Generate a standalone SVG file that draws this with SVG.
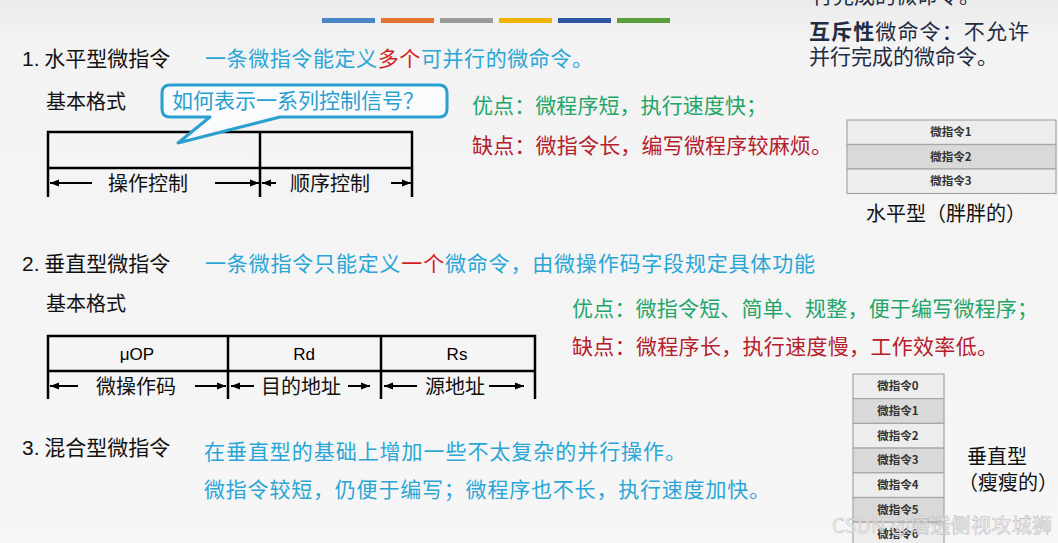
<svg xmlns="http://www.w3.org/2000/svg" width="1058" height="543" viewBox="0 0 1058 543">
<defs>
<linearGradient id="bg" x1="0" y1="0" x2="0" y2="1">
<stop offset="0" stop-color="#ebebeb"/>
<stop offset="0.08" stop-color="#f3f3f3"/>
<stop offset="1" stop-color="#f6f6f6"/>
</linearGradient>
<marker id="ah" markerUnits="userSpaceOnUse" markerWidth="10" markerHeight="8" refX="9" refY="4" orient="auto">
<path d="M0,0.5 L9,4 L0,7.5 z" fill="#000"/>
</marker>
<style>
text{font-family:"Noto Sans CJK SC","Noto Sans",sans-serif;}
.h{font-size:21px;fill:#111;}
.blue{font-size:21px;fill:#2aa6d6;}
.red{fill:#d41e1e;}
.good{font-size:21px;fill:#23a56a;}
.bad{font-size:21px;fill:#b5202c;}
.navy{font-size:21px;fill:#1f2c44;}
.lbl{font-size:20px;fill:#111;}
.fld{font-family:"Liberation Sans",Arial,sans-serif;font-size:17px;fill:#000;}
.frame{fill:none;stroke:#000;stroke-width:2.5;}
.arr{stroke:#000;stroke-width:2;marker-end:url(#ah);}
.cellL{fill:#ededed;stroke:#a6a6a6;stroke-width:1.2;}
.cellD{fill:#d9d9d9;stroke:#a6a6a6;stroke-width:1.2;}
.ct{font-size:11.5px;font-weight:bold;fill:#333;text-anchor:middle;}
</style>
</defs>
<rect x="0" y="0" width="1058" height="543" fill="url(#bg)"/>

<g id="color-bars">
<rect x="322" y="18" width="53" height="5" fill="#4a86c8"/>
<rect x="381" y="18" width="53" height="5" fill="#e0732e"/>
<rect x="440" y="18" width="53" height="5" fill="#9a9a9a"/>
<rect x="499" y="18" width="53" height="5" fill="#f0b400"/>
<rect x="558" y="18" width="53" height="5" fill="#2f55a4"/>
<rect x="617" y="18" width="53" height="5" fill="#5a9e3c"/>
</g>

<g id="mutex-note">
<text class="navy" x="812" y="3">行完成的微命令。</text>
<text class="navy" x="809" y="39" textLength="220"><tspan font-weight="bold">互斥性</tspan>微命令：不允许</text>
<text class="navy" x="809" y="64">并行完成的微命令。</text>
</g>

<g id="sec1-title">
<text class="h" x="22" y="66"><tspan font-family="Liberation Sans, sans-serif">1.</tspan> 水平型微指令</text>
<text class="blue" x="205" y="66" textLength="388">一条微指令能定义<tspan class="red">多个</tspan>可并行的微命令。</text>
</g>

<g id="sec1-format">
<text class="lbl" x="46" y="109">基本格式</text>
<path class="frame" d="M48,197 V132 H412 V197 M260,132 V197 M48,168 H412"/>
<text class="lbl" x="108" y="191">操作控制</text>
<text class="lbl" x="290" y="191">顺序控制</text>
</g>

<g id="sec1-bubble">
<path d="M170,85 H439 Q447,85 447,93 V109 Q447,117 439,117 H280 L178,143 L210,117 H170 Q162,117 162,109 V93 Q162,85 170,85 Z" fill="#f9fbfc" stroke="#2a9fd0" stroke-width="3" stroke-linejoin="round"/>
<text x="172" y="108" font-size="21" fill="#2a9fd0" textLength="252">如何表示一系列控制信号？</text>
</g>

<g id="sec1-pros">
<text class="good" x="472" y="113" textLength="295">优点：微程序短，执行速度快；</text>
<text class="bad" x="472" y="153" textLength="360">缺点：微指令长，编写微程序较麻烦。</text>
</g>

<g id="horizontal-stack">
<rect class="cellL" x="847" y="120" width="209" height="24.5"/>
<rect class="cellD" x="847" y="144.5" width="209" height="24.5"/>
<rect class="cellL" x="847" y="169" width="209" height="24.5"/>
<text class="ct" x="951" y="136">微指令1</text>
<text class="ct" x="951" y="161">微指令2</text>
<text class="ct" x="951" y="185">微指令3</text>
<text class="lbl" x="866" y="221">水平型（胖胖的）</text>
</g>

<g id="sec2-title">
<text class="h" x="22" y="271"><tspan font-family="Liberation Sans, sans-serif">2.</tspan> 垂直型微指令</text>
<text class="blue" x="205" y="271" textLength="610">一条微指令只能定义<tspan class="red">一个</tspan>微命令，由微操作码字段规定具体功能</text>
</g>

<g id="sec2-format">
<text class="lbl" x="46" y="311">基本格式</text>
<path class="frame" d="M48,399 V336 H535 V399 M228,336 V399 M381,336 V399 M48,371 H535"/>
<text class="fld" x="137" y="360" text-anchor="middle">μOP</text>
<text class="fld" x="304" y="360" text-anchor="middle">Rd</text>
<text class="fld" x="457" y="360" text-anchor="middle">Rs</text>
<text class="lbl" x="96" y="394">微操作码</text>
<text class="lbl" x="261" y="394">目的地址</text>
<text class="lbl" x="425" y="394">源地址</text>
</g>

<g id="sec2-pros">
<text class="good" x="572" y="316" textLength="466">优点：微指令短、简单、规整，便于编写微程序；</text>
<text class="bad" x="572" y="354" textLength="426">缺点：微程序长，执行速度慢，工作效率低。</text>
</g>

<g id="vertical-stack">
<rect class="cellL" x="853" y="374" width="91" height="24.7"/>
<rect class="cellD" x="853" y="398.7" width="91" height="24.7"/>
<rect class="cellL" x="853" y="423.4" width="91" height="24.7"/>
<rect class="cellD" x="853" y="448.1" width="91" height="24.7"/>
<rect class="cellL" x="853" y="472.8" width="91" height="24.7"/>
<rect class="cellD" x="853" y="497.5" width="91" height="24.7"/>
<rect class="cellL" x="853" y="522.2" width="91" height="24.7"/>
<text class="ct" x="898" y="390">微指令0</text>
<text class="ct" x="898" y="415">微指令1</text>
<text class="ct" x="898" y="440">微指令2</text>
<text class="ct" x="898" y="464">微指令3</text>
<text class="ct" x="898" y="489">微指令4</text>
<text class="ct" x="898" y="514">微指令5</text>
<text class="ct" x="898" y="538">微指令6</text>
<text class="lbl" x="967" y="464">垂直型</text>
<text class="lbl" x="958" y="490">（瘦瘦的）</text>
</g>

<g id="sec3">
<text class="h" x="22" y="455"><tspan font-family="Liberation Sans, sans-serif">3.</tspan> 混合型微指令</text>
<text class="blue" x="204" y="459" textLength="482">在垂直型的基础上增加一些不太复杂的并行操作。</text>
<text class="blue" x="204" y="497" textLength="566">微指令较短，仍便于编写；微程序也不长，执行速度加快。</text>
</g>

<g id="connectors">
<line class="arr" x1="92" y1="183" x2="50" y2="183"/>
<line class="arr" x1="215" y1="183" x2="259" y2="183"/>
<line class="arr" x1="276" y1="183" x2="262" y2="183"/>
<line class="arr" x1="391" y1="183" x2="411" y2="183"/>
<line class="arr" x1="78" y1="386" x2="50" y2="386"/>
<line class="arr" x1="195" y1="386" x2="226" y2="386"/>
<line class="arr" x1="254" y1="386" x2="231" y2="386"/>
<line class="arr" x1="348" y1="386" x2="370" y2="386"/>
<line class="arr" x1="417" y1="386" x2="384" y2="386"/>
<line class="arr" x1="489" y1="386" x2="524" y2="386"/>
</g>

<text x="832" y="533" font-size="20" fill="#f4f4f4" stroke="#b8b8b8" stroke-width="0.6" textLength="220" opacity="0.85">CSDN @磨透侧视攻城狮</text>
</svg>
